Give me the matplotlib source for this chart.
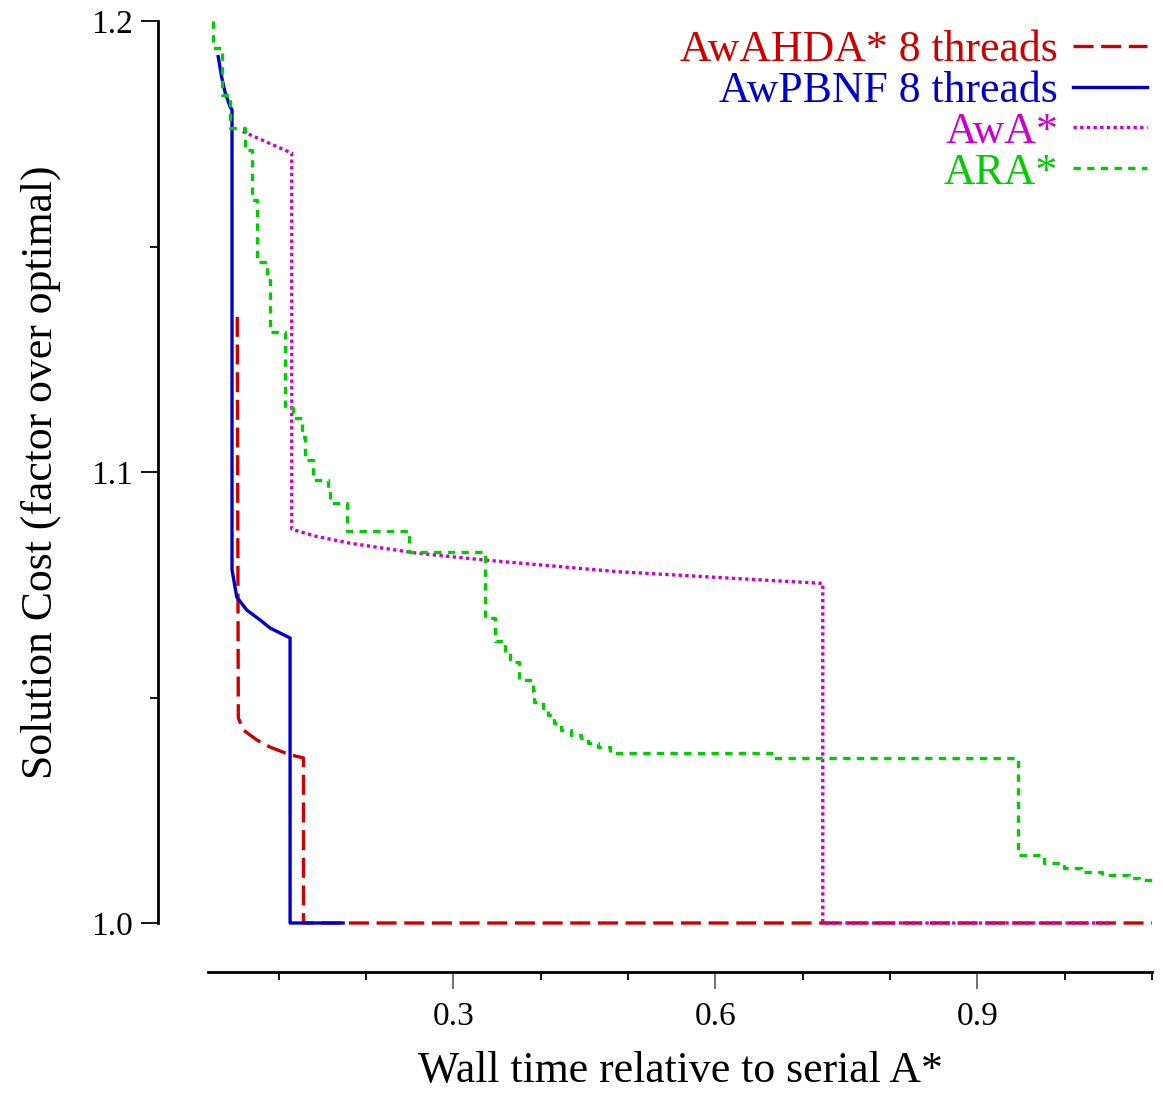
import matplotlib
matplotlib.use("Agg")
import matplotlib.pyplot as plt

# ---- data ----
ahda_x = [0.0525, 0.0537, 0.0594, 0.0748, 0.0901, 0.1130, 0.1283, 0.1283, 1.10]
ahda_y = [1.1344, 1.0455, 1.0428, 1.0406, 1.0390, 1.0373, 1.0366, 1.0, 1.0]

pbnf_x = [0.0307, 0.0346, 0.0384, 0.0442, 0.0465, 0.0465, 0.0519, 0.0633, 0.0786, 0.0901, 0.1130, 0.1130, 0.1738]
pbnf_y = [1.1921, 1.1876, 1.1843, 1.1810, 1.1803, 1.0783, 1.0723, 1.0694, 1.0672, 1.0654, 1.0632, 1.0, 1.0]

awa_x = [0.0587, 0.1149, 0.1149, 0.1436, 0.1818, 0.2583, 0.3347, 0.4878, 0.6407, 0.7230, 0.7230, 1.051]
awa_y = [1.1755, 1.1707, 1.0873, 1.0857, 1.0842, 1.0820, 1.0805, 1.0779, 1.0762, 1.0753, 1.0, 1.0]

ara_t = [0.0247, 0.0247, 0.0346, 0.0447, 0.0619, 0.0691, 0.0746, 0.0863, 0.0901, 0.1073,
         0.1164, 0.1264, 0.1302, 0.1394, 0.1569, 0.1589, 0.1784, 0.2487, 0.3367, 0.3482,
         0.3596, 0.3654, 0.3746, 0.3906, 0.3921, 0.4021, 0.4079, 0.4147, 0.4228, 0.4343,
         0.4457, 0.4537, 0.4652, 0.4792, 0.6659, 0.9467, 0.9768, 0.9997, 1.0192, 1.0422,
         1.0732, 1.0846, 1.10]
ara_c = [1.2000, 1.1940, 1.1836, 1.1762, 1.1714, 1.1603, 1.1466, 1.1426, 1.1310, 1.1142,
         1.1120, 1.1078, 1.1027, 1.0982, 1.0965, 1.0931, 1.0869, 1.0823, 1.0676, 1.0625,
         1.0599, 1.0579, 1.0539, 1.0514, 1.0490, 1.0477, 1.0461, 1.0443, 1.0428, 1.0417,
         1.0410, 1.0399, 1.0390, 1.0377, 1.0366, 1.0151, 1.0133, 1.0122, 1.0113, 1.0106,
         1.0100, 1.0095, 1.0095]

labels = ["AwAHDA* 8 threads", "AwPBNF 8 threads", "AwA*", "ARA*"]
colors = ["#cc0000", "#0000cc", "#cc00cc", "#00cc00"]

x_major = [0.3, 0.6, 0.9]
x_minor = [0.1, 0.2, 0.4, 0.5, 0.7, 0.8, 1.0, 1.1]
y_major = [1.0, 1.1, 1.2]
y_minor = [1.05, 1.15]

plt.rcParams['font.family'] = ['Liberation Serif', 'DejaVu Serif']

W, H = 1163, 1094
fig = plt.figure(figsize=(W / 100, H / 100), dpi=100)
ax = fig.add_axes([208 / W, 1 - 923 / H, (1152 - 208) / W, (923 - 21) / H])

lw = 2.4
l1, = ax.plot(ahda_x, ahda_y, color=colors[0], lw=lw, dashes=(6.0, 2.3), clip_on=False, label=labels[0])
l2, = ax.plot(pbnf_x, pbnf_y, color=colors[1], lw=lw, clip_on=False, label=labels[1])
l3, = ax.plot(awa_x, awa_y, color=colors[2], lw=lw, dashes=(1, 1), clip_on=False, label=labels[2])
l4, = ax.plot(ara_t, ara_c, color=colors[3], lw=lw, dashes=(2.2, 1.9), drawstyle='steps-post',
              clip_on=False, label=labels[3])

ax.set_xlim(0.019, 1.1)
ax.set_ylim(1.0, 1.2)

for s in ['top', 'right']:
    ax.spines[s].set_visible(False)
ax.spines['left'].set_position(('outward', 36))
ax.spines['bottom'].set_position(('outward', 35.3))
ax.spines['left'].set_bounds(1.0, 1.2)
ax.spines['bottom'].set_bounds(0.019, 1.1)
ax.spines['left'].set_linewidth(2)
ax.spines['bottom'].set_linewidth(2)

ax.set_xticks(x_major)
ax.set_xticklabels(["%.1f" % v for v in x_major])
ax.set_xticks(x_minor, minor=True)
ax.set_yticks(y_major)
ax.set_yticklabels(["%.1f" % v for v in y_major])
ax.set_yticks(y_minor, minor=True)

ax.tick_params(axis='both', which='major', direction='out', length=12, width=1.3, labelsize=24)
ax.tick_params(axis='x', which='major', pad=9, color='#666666')
ax.tick_params(axis='y', which='major', pad=6)
ax.tick_params(axis='both', which='minor', direction='out', length=6, width=1.3)

ax.set_xlabel("Wall time relative to serial A*", fontsize=31.5, labelpad=14)
ax.set_ylabel("Solution Cost (factor over optimal)", fontsize=31.5, labelpad=22)

leg = ax.legend(handles=[l1, l2, l3, l4], loc='upper right', bbox_to_anchor=(0.9947, 0.99),
                markerfirst=False, frameon=False, fontsize=31.5, handlelength=1.7,
                handletextpad=0.33, labelspacing=0.02, borderaxespad=0, borderpad=0)
for t, c in zip(leg.get_texts(), colors):
    t.set_color(c)

fig.savefig("out.png", dpi=100)
